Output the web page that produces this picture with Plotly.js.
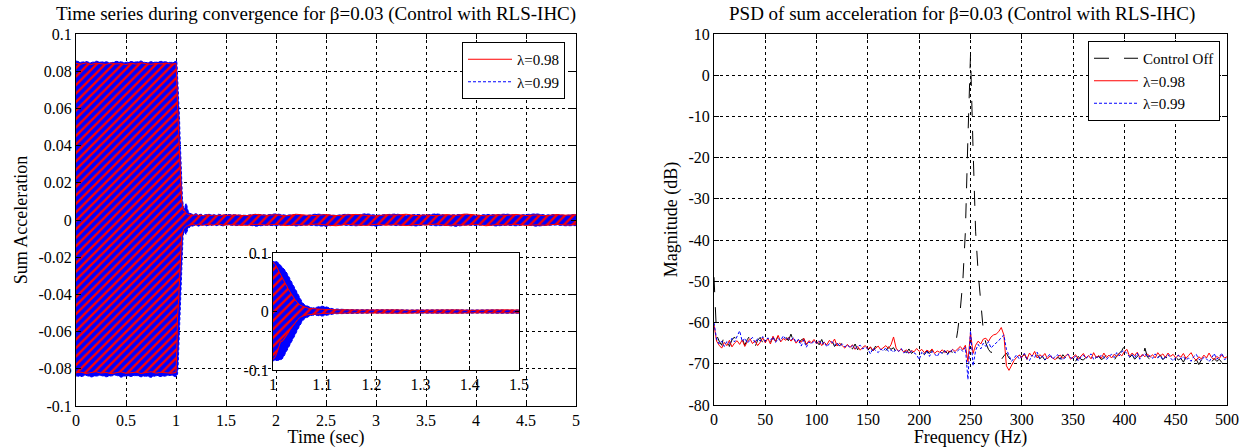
<!DOCTYPE html>
<html>
<head>
<meta charset="utf-8">
<script src="https://cdn.plot.ly/plotly-3.0.1.min.js"></script>
<style>
html,body{margin:0;padding:0;background:#fff;}
#chart{width:1239px;height:448px;}
</style>
</head>
<body>
<div id="chart"></div>
<script>
// ---------- Time series (envelopes of the dense oscillation) ----------
const time = [
0,0.05,0.1,0.15,0.2,0.25,0.3,0.35,0.4,0.45,0.5,0.55,0.6,0.65,0.7,0.75,0.8,0.85,0.9,0.95,1.0,
1.005,1.01,1.015,1.02,1.025,1.03,1.035,1.04,1.045,1.05,1.055,1.06,1.065,1.07,1.075,1.08,1.085,1.09,1.095,1.1,1.105,1.11,1.115,1.12,1.125,1.13,1.135,1.14,1.145,1.15,
1.175,1.2,1.225,1.25,1.275,1.3,1.325,1.35,1.375,1.4,1.425,1.45,1.475,1.5,
1.6,1.7,1.8,1.9,2.0,2.1,2.2,2.3,2.4,2.5,2.6,2.7,2.8,2.9,3.0,3.1,3.2,3.3,3.4,3.5,3.6,3.7,3.8,3.9,4.0,4.1,4.2,4.3,4.4,4.5,4.6,4.7,4.8,4.9,5.0
];
const upper099 = [
0.0855,0.0848,0.0852,0.0846,0.0854,0.0849,0.0851,0.0845,0.0853,0.0850,0.0847,0.0852,0.0849,0.0855,0.0846,0.0851,0.0848,0.0853,0.0850,0.0847,0.0852,
0.086,0.084,0.079,0.076,0.070,0.063,0.055,0.046,0.037,0.029,0.021,0.015,0.011,0.009,0.007,0.006,0.0065,0.008,0.0085,0.009,0.0085,0.0075,0.006,0.0048,0.004,0.0042,0.0038,0.0035,0.0037,0.0033,
0.0030,0.0034,0.0028,0.0031,0.0026,0.0029,0.0032,0.0027,0.0030,0.0025,0.0031,0.0028,0.0026,0.0030,
0.0029,0.0025,0.0031,0.0027,0.0033,0.0026,0.0030,0.0024,0.0032,0.0028,0.0025,0.0031,0.0027,0.0034,0.0026,0.0029,0.0032,0.0025,0.0030,0.0027,0.0033,0.0026,0.0029,0.0031,0.0024,0.0030,0.0028,0.0032,0.0026,0.0029,0.0033,0.0027,0.0030,0.0025,0.0031
];
const lower099 = [
-0.0838,-0.0842,-0.0835,-0.0844,-0.0839,-0.0836,-0.0843,-0.0840,-0.0834,-0.0845,-0.0838,-0.0841,-0.0836,-0.0843,-0.0839,-0.0846,-0.0837,-0.0842,-0.0840,-0.0835,-0.0843,
-0.084,-0.083,-0.083,-0.080,-0.072,-0.066,-0.058,-0.049,-0.040,-0.031,-0.022,-0.016,-0.012,-0.0095,-0.0075,-0.0065,-0.006,-0.0068,-0.0075,-0.0078,-0.007,-0.006,-0.005,-0.0045,-0.004,-0.0038,-0.0041,-0.0036,-0.0034,-0.0035,
-0.0031,-0.0027,-0.0033,-0.0029,-0.0026,-0.0032,-0.0028,-0.0030,-0.0025,-0.0031,-0.0027,-0.0029,-0.0032,-0.0026,
-0.0030,-0.0026,-0.0033,-0.0028,-0.0031,-0.0025,-0.0032,-0.0027,-0.0030,-0.0034,-0.0026,-0.0029,-0.0031,-0.0027,-0.0033,-0.0025,-0.0030,-0.0028,-0.0032,-0.0026,-0.0031,-0.0029,-0.0034,-0.0027,-0.0030,-0.0025,-0.0032,-0.0028,-0.0031,-0.0026,-0.0033,-0.0029,-0.0027,-0.0031,-0.0030
];
const upper098 = [
0.0842,0.0838,0.0845,0.0836,0.0843,0.0840,0.0837,0.0844,0.0839,0.0841,0.0836,0.0843,0.0838,0.0845,0.0840,0.0837,0.0842,0.0839,0.0844,0.0838,0.0841,
0.080,0.072,0.062,0.055,0.048,0.040,0.033,0.026,0.020,0.015,0.011,0.009,0.007,0.006,0.005,0.0055,0.0048,0.0042,0.0045,0.0038,0.0035,0.0032,0.0034,0.003,0.0028,0.0031,0.0027,0.0029,0.0026,0.0028,
0.0025,0.0029,0.0024,0.0027,0.0022,0.0026,0.0028,0.0023,0.0027,0.0021,0.0026,0.0024,0.0028,0.0025,
0.0027,0.0023,0.0030,0.0025,0.0028,0.0022,0.0031,0.0026,0.0024,0.0029,0.0023,0.0027,0.0030,0.0025,0.0022,0.0028,0.0026,0.0031,0.0024,0.0027,0.0023,0.0029,0.0025,0.0032,0.0026,0.0022,0.0028,0.0025,0.0030,0.0024,0.0027,0.0023,0.0029,0.0026,0.0028
];
const lower098 = [
-0.0822,-0.0818,-0.0825,-0.0820,-0.0816,-0.0823,-0.0819,-0.0826,-0.0821,-0.0817,-0.0824,-0.0820,-0.0818,-0.0825,-0.0822,-0.0816,-0.0823,-0.0819,-0.0821,-0.0824,-0.0820,
-0.077,-0.066,-0.052,-0.050,-0.045,-0.038,-0.031,-0.025,-0.019,-0.014,-0.010,-0.008,-0.0065,-0.0055,-0.005,-0.0045,-0.0042,-0.0038,-0.004,-0.0035,-0.0033,-0.003,-0.0032,-0.0028,-0.003,-0.0027,-0.0029,-0.0025,-0.0028,-0.0026,
-0.0024,-0.0028,-0.0023,-0.0026,-0.0029,-0.0022,-0.0027,-0.0025,-0.0028,-0.0023,-0.0026,-0.0024,-0.0029,-0.0025,
-0.0026,-0.0029,-0.0023,-0.0027,-0.0024,-0.0030,-0.0025,-0.0028,-0.0022,-0.0027,-0.0031,-0.0024,-0.0026,-0.0029,-0.0023,-0.0028,-0.0025,-0.0030,-0.0024,-0.0027,-0.0022,-0.0029,-0.0026,-0.0028,-0.0023,-0.0031,-0.0025,-0.0027,-0.0024,-0.0029,-0.0026,-0.0028,-0.0023,-0.0027,-0.0025
];

// ---------- PSD ----------
const freq = [
0,2.5,5,7.5,10,12.5,15,17.5,20,22.5,
25,27.5,30,32.5,35,37.5,40,42.5,45,47.5,
50,52.5,55,57.5,60,62.5,65,67.5,70,72.5,
75,77.5,80,82.5,85,87.5,90,92.5,95,97.5,
100,102.5,105,107.5,110,112.5,115,117.5,120,122.5,
125,127.5,130,132.5,135,137.5,140,142.5,145,147.5,
150,152.5,155,157.5,160,162.5,165,167.5,170,172.5,
175,177.5,180,182.5,185,187.5,190,192.5,195,197.5,
200,202.5,205,207.5,210,212.5,215,217.5,220,222.5,
225,227.5,230,232.5,235,237.5,240,242.5,245,247.5,
250,252.5,255,257.5,260,262.5,265,267.5,270,272.5,
275,277.5,280,282.5,285,287.5,290,292.5,295,297.5,
300,302.5,305,307.5,310,312.5,315,317.5,320,322.5,
325,327.5,330,332.5,335,337.5,340,342.5,345,347.5,
350,352.5,355,357.5,360,362.5,365,367.5,370,372.5,
375,377.5,380,382.5,385,387.5,390,392.5,395,397.5,
400,402.5,405,407.5,410,412.5,415,417.5,420,422.5,
425,427.5,430,432.5,435,437.5,440,442.5,445,447.5,
450,452.5,455,457.5,460,462.5,465,467.5,470,472.5,
475,477.5,480,482.5,485,487.5,490,492.5,495,497.5,
500
];
const psdOff = [
-49,-63,-64.5,-65.5,-63,-64,-65.8,-64.2,-63.5,-65.2,
-64.8,-63.9,-65.5,-64.1,-63.2,-64.6,-65.9,-64.3,-63.6,-64.9,
-64.2,-63.4,-64.8,-63.7,-64.5,-63.3,-64.9,-64.1,-63.5,-64.4,
-62.8,-64.6,-63.8,-65.1,-64.2,-63.9,-65.3,-64.5,-64.0,-65.2,
-64.6,-65.4,-64.1,-65.7,-64.9,-65.3,-64.4,-65.8,-65.1,-65.6,
-65.0,-66.1,-65.4,-65.9,-66.4,-65.2,-66.6,-65.8,-66.3,-65.5,
-66.7,-66.0,-66.9,-65.7,-66.4,-67.1,-66.2,-66.8,-65.9,-66.5,
-66.1,-67.2,-66.5,-67.6,-66.8,-67.3,-66.4,-67.5,-66.9,-67.0,
-67.4,-66.6,-67.8,-66.9,-67.5,-66.7,-67.9,-67.2,-66.6,-67.4,
-66.8,-67.5,-66.9,-67.2,-66.0,-62.0,-57.0,-50.0,-38.0,-15.0,
5.0,-18.0,-38.0,-48.0,-56.0,-62.0,-65.0,-66.5,-67.3,-66.8,
-67.6,-68.3,-69.0,-68.1,-67.4,-68.6,-69.2,-68.0,-68.7,-67.9,
-68.4,-67.6,-68.9,-68.1,-69.0,-68.3,-67.7,-68.8,-68.2,-69.1,
-68.5,-67.9,-68.8,-69.3,-68.4,-68.9,-67.8,-68.6,-69.2,-68.3,
-68.7,-69.4,-68.2,-68.9,-69.1,-68.4,-67.9,-68.8,-69.3,-68.5,
-68.2,-69.0,-68.6,-67.8,-68.9,-68.3,-69.2,-68.1,-67.5,-66.8,
-65.6,-67.4,-68.5,-67.8,-68.9,-68.2,-67.6,-68.8,-66.2,-68.4,
-68.9,-68.1,-69.4,-68.5,-67.9,-69.0,-68.3,-68.8,-69.5,-68.6,
-68.2,-69.1,-68.7,-69.6,-68.4,-69.0,-68.5,-69.8,-68.9,-70.2,
-69.1,-68.5,-69.3,-68.8,-69.6,-68.7,-69.4,-68.9,-69.7,-69.0,
-69.2
];
const psd098 = [
-60.5,-64.5,-65.5,-66.2,-64.8,-65.6,-64.3,-65.9,-65.0,-64.4,
-65.3,-64.2,-65.8,-64.6,-63.9,-65.1,-64.4,-65.6,-64.8,-63.7,
-64.9,-63.8,-65.2,-63.3,-64.6,-63.1,-64.7,-63.9,-64.3,-63.6,
-64.5,-63.9,-65.0,-64.2,-64.8,-63.8,-65.3,-64.4,-64.9,-64.1,
-65.2,-64.5,-65.6,-64.8,-65.4,-64.3,-65.1,-64.0,-65.7,-65.0,
-65.6,-66.2,-65.3,-66.0,-65.4,-66.5,-65.8,-66.7,-66.0,-65.6,
-66.4,-65.9,-66.8,-66.2,-65.7,-66.6,-66.1,-65.6,-66.3,-65.4,
-63.5,-66.2,-67.0,-66.4,-67.2,-66.6,-67.4,-66.8,-67.1,-66.3,
-67.0,-66.5,-67.3,-66.7,-67.1,-66.4,-67.5,-66.9,-67.2,-66.6,
-67.3,-66.8,-67.2,-66.5,-67.0,-66.3,-65.8,-66.6,-65.5,-69.5,
-62.5,-67.5,-65.5,-64.5,-65.2,-64.0,-63.8,-64.6,-63.5,-63.0,
-62.8,-62.2,-61.2,-63.0,-70.5,-71.6,-70.4,-69.2,-68.4,-67.9,
-68.5,-67.6,-68.9,-67.4,-68.2,-67.0,-68.6,-67.8,-68.3,-67.5,
-68.8,-68.1,-68.6,-69.0,-68.3,-67.9,-68.7,-68.2,-67.6,-68.9,
-68.4,-67.8,-68.9,-68.2,-67.5,-68.6,-68.0,-68.8,-67.3,-68.5,
-68.0,-68.7,-67.4,-68.5,-67.9,-68.6,-67.7,-68.3,-67.5,-68.1,
-67.0,-66.5,-68.2,-67.4,-68.0,-67.2,-68.5,-67.7,-68.3,-67.6,
-68.4,-67.8,-68.6,-67.3,-68.1,-67.6,-68.5,-67.4,-68.2,-67.7,
-68.6,-67.9,-68.4,-67.5,-68.7,-68.0,-67.3,-68.5,-69.2,-68.3,
-68.8,-67.9,-68.6,-67.4,-68.5,-69.0,-68.2,-68.7,-67.8,-68.6,
-68.3
];
const psd099 = [
-60.0,-64.0,-65.2,-64.5,-65.8,-64.6,-65.1,-63.8,-64.7,-63.4,
-62.0,-64.6,-63.8,-65.0,-64.2,-63.6,-64.9,-63.9,-64.5,-63.4,
-64.6,-63.7,-64.3,-63.5,-64.8,-63.9,-64.4,-63.2,-64.1,-63.8,
-64.3,-63.6,-64.8,-64.0,-65.7,-64.2,-66.0,-64.7,-65.2,-64.5,
-65.0,-64.4,-65.3,-64.7,-65.9,-65.1,-64.6,-65.5,-64.9,-65.8,
-65.2,-65.9,-65.4,-66.1,-65.6,-66.3,-65.8,-65.5,-66.4,-65.9,
-66.5,-67.6,-66.2,-66.8,-67.3,-66.4,-66.9,-66.1,-67.0,-66.6,
-67.2,-66.5,-67.0,-66.3,-67.4,-66.8,-67.6,-66.9,-67.3,-67.8,
-69.0,-67.2,-67.8,-66.9,-68.2,-67.0,-67.6,-68.3,-67.1,-67.5,
-66.9,-67.8,-67.2,-66.6,-67.4,-66.8,-66.3,-67.0,-66.0,-73.8,
-62.0,-70.5,-66.8,-65.3,-66.4,-65.0,-65.8,-64.6,-66.2,-65.5,
-65.0,-64.4,-63.6,-63.0,-66.5,-68.2,-69.4,-68.6,-67.8,-68.9,
-68.2,-67.5,-68.8,-69.2,-67.9,-68.5,-67.2,-68.7,-68.1,-69.0,
-68.4,-67.6,-68.9,-68.2,-67.8,-68.6,-69.1,-68.3,-67.7,-68.5,
-68.8,-68.1,-69.3,-68.4,-67.9,-68.7,-68.2,-67.6,-68.9,-68.3,
-68.6,-67.9,-68.4,-69.0,-68.2,-67.7,-68.5,-67.3,-68.1,-67.0,
-66.8,-67.5,-68.3,-67.8,-68.6,-67.4,-68.9,-68.0,-67.5,-68.4,
-68.0,-68.7,-67.6,-68.5,-68.1,-69.0,-68.4,-67.8,-68.6,-69.3,
-68.5,-67.9,-68.8,-68.2,-69.1,-68.6,-69.4,-68.3,-67.7,-68.9,
-69.2,-68.4,-68.8,-69.5,-68.6,-67.5,-68.9,-68.3,-67.4,-69.0,
-68.6
];

// ---------- Tick labels ----------
const timeTickVals = [0,0.5,1,1.5,2,2.5,3,3.5,4,4.5,5];
const timeTickText = ["0","0.5","1","1.5","2","2.5","3","3.5","4","4.5","5"];
const accTickVals = [-0.1,-0.08,-0.06,-0.04,-0.02,0,0.02,0.04,0.06,0.08,0.1];
const accTickText = ["-0.1","-0.08","-0.06","-0.04","-0.02","0","0.02","0.04","0.06","0.08","0.1"];
const insetXVals = [1,1.1,1.2,1.3,1.4,1.5];
const insetXText = ["1","1.1","1.2","1.3","1.4","1.5"];
const insetYVals = [-0.1,0,0.1];
const insetYText = ["-0.1","0","0.1"];
const freqTickVals = [0,50,100,150,200,250,300,350,400,450,500];
const freqTickText = ["0","50","100","150","200","250","300","350","400","450","500"];
const dbTickVals = [-80,-70,-60,-50,-40,-30,-20,-10,0,10];
const dbTickText = ["-80","-70","-60","-50","-40","-30","-20","-10","0","10"];

const seriesNames = ["\u03bb=0.98","\u03bb=0.99","Control Off"];
const titles = ["Time series during convergence for \u03b2=0.03 (Control with RLS-IHC)",
                "PSD of sum acceleration for \u03b2=0.03 (Control with RLS-IHC)"];

// ---------- Styles ----------
const FONT = "Liberation Serif, Times New Roman, serif";
const RED = "#ff0000", BLUE = "#0000ff";
const W = 1239, H = 448;
const px = v => v / W, py = v => 1 - v / H;
const TICK = 16, AXT = 18, TIT = 19, LEG = 15;

function bandTraces(xa, ya, legendOn) {
  return [
    {x: time, y: upper099, xaxis: xa, yaxis: ya, type: "scatter", mode: "lines",
     line: {color: BLUE, width: 1, dash: "3px,2px"}, name: seriesNames[1],
     showlegend: legendOn, legend: "legend", legendrank: 2, hoverinfo: "skip"},
    {x: time, y: lower099, xaxis: xa, yaxis: ya, type: "scatter", mode: "lines",
     line: {color: BLUE, width: 1, dash: "3px,2px"}, fill: "tonexty", fillcolor: BLUE,
     showlegend: false, hoverinfo: "skip"},
    {x: time, y: upper098, xaxis: xa, yaxis: ya, type: "scatter", mode: "lines",
     line: {color: RED, width: 1}, name: seriesNames[0],
     showlegend: legendOn, legend: "legend", legendrank: 1, hoverinfo: "skip"},
    {x: time, y: lower098, xaxis: xa, yaxis: ya, type: "scatter", mode: "lines",
     line: {color: RED, width: 1}, fill: "tonexty", fillcolor: "rgba(0,0,0,0)",
     fillpattern: {shape: "/", fgcolor: RED, bgcolor: "rgba(0,0,0,0)", size: 6, solidity: 0.4},
     showlegend: false, hoverinfo: "skip"}
  ];
}

const data = [
  ...bandTraces("x", "y", true),
  ...bandTraces("x3", "y3", false),
  {x: freq, y: psdOff, xaxis: "x2", yaxis: "y2", type: "scatter", mode: "lines",
   line: {color: "#000", width: 1, dash: "longdash"}, name: seriesNames[2], legend: "legend2"},
  {x: freq, y: psd098, xaxis: "x2", yaxis: "y2", type: "scatter", mode: "lines",
   line: {color: RED, width: 1}, name: seriesNames[0], legend: "legend2"},
  {x: freq, y: psd099, xaxis: "x2", yaxis: "y2", type: "scatter", mode: "lines",
   line: {color: BLUE, width: 1, dash: "3px,2px"}, name: seriesNames[1], legend: "legend2"}
];

const axBase = {
  showline: true, linecolor: "#000", linewidth: 1, mirror: "ticks",
  ticks: "inside", ticklen: 5, tickcolor: "#000", tickwidth: 1,
  showgrid: true, gridcolor: "#000", gridwidth: 1, griddash: "3px,3px",
  zeroline: false, tickmode: "array",
  tickfont: {family: FONT, size: TICK, color: "#000"}
};

const layout = {
  width: W, height: H,
  margin: {l: 0, r: 0, t: 0, b: 0},
  paper_bgcolor: "#fff", plot_bgcolor: "#fff",
  font: {family: FONT, color: "#000"},
  showlegend: true,
  xaxis: Object.assign({}, axBase, {
    domain: [px(76), px(576)], anchor: "y", range: [0, 5],
    tickvals: timeTickVals, ticktext: timeTickText,
    title: {text: "Time (sec)", font: {family: FONT, size: AXT}, standoff: 0}
  }),
  yaxis: Object.assign({}, axBase, {
    domain: [py(406), py(34)], anchor: "x", range: [-0.1, 0.1],
    tickvals: accTickVals, ticktext: accTickText,
    title: {text: "Sum Acceleration", font: {family: FONT, size: AXT}, standoff: 6}
  }),
  xaxis2: Object.assign({}, axBase, {
    domain: [px(714), px(1227)], anchor: "y2", range: [0, 500],
    tickvals: freqTickVals, ticktext: freqTickText,
    title: {text: "Frequency (Hz)", font: {family: FONT, size: AXT}, standoff: 0}
  }),
  yaxis2: Object.assign({}, axBase, {
    domain: [py(405), py(34)], anchor: "x2", range: [-80, 10],
    tickvals: dbTickVals, ticktext: dbTickText,
    title: {text: "Magnitude (dB)", font: {family: FONT, size: AXT}, standoff: 6}
  }),
  xaxis3: Object.assign({}, axBase, {
    domain: [px(273), px(519)], anchor: "y3", range: [1, 1.5],
    tickvals: insetXVals, ticktext: insetXText, ticklen: 4
  }),
  yaxis3: Object.assign({}, axBase, {
    domain: [py(370), py(253)], anchor: "x3", range: [-0.1, 0.1],
    tickvals: insetYVals, ticktext: insetYText, ticklen: 4, showgrid: false
  }),
  legend: {
    x: px(565), y: py(42), xanchor: "right", yanchor: "top",
    bgcolor: "#fff", bordercolor: "#000", borderwidth: 1,
    font: {family: FONT, size: LEG}, itemwidth: 44, traceorder: "normal"
  },
  legend2: {
    x: px(1220), y: py(41), xanchor: "right", yanchor: "top",
    bgcolor: "#fff", bordercolor: "#000", borderwidth: 1,
    font: {family: FONT, size: LEG}, itemwidth: 44
  },
  annotations: [
    {text: titles[0], xref: "paper", yref: "paper", x: px(316), y: py(14),
     xanchor: "center", yanchor: "middle", showarrow: false, font: {family: FONT, size: TIT}},
    {text: titles[1], xref: "paper", yref: "paper", x: px(962), y: py(14),
     xanchor: "center", yanchor: "middle", showarrow: false, font: {family: FONT, size: TIT}}
  ]
};

Plotly.newPlot("chart", data, layout, {staticPlot: true, displayModeBar: false});
</script>
</body>
</html>
